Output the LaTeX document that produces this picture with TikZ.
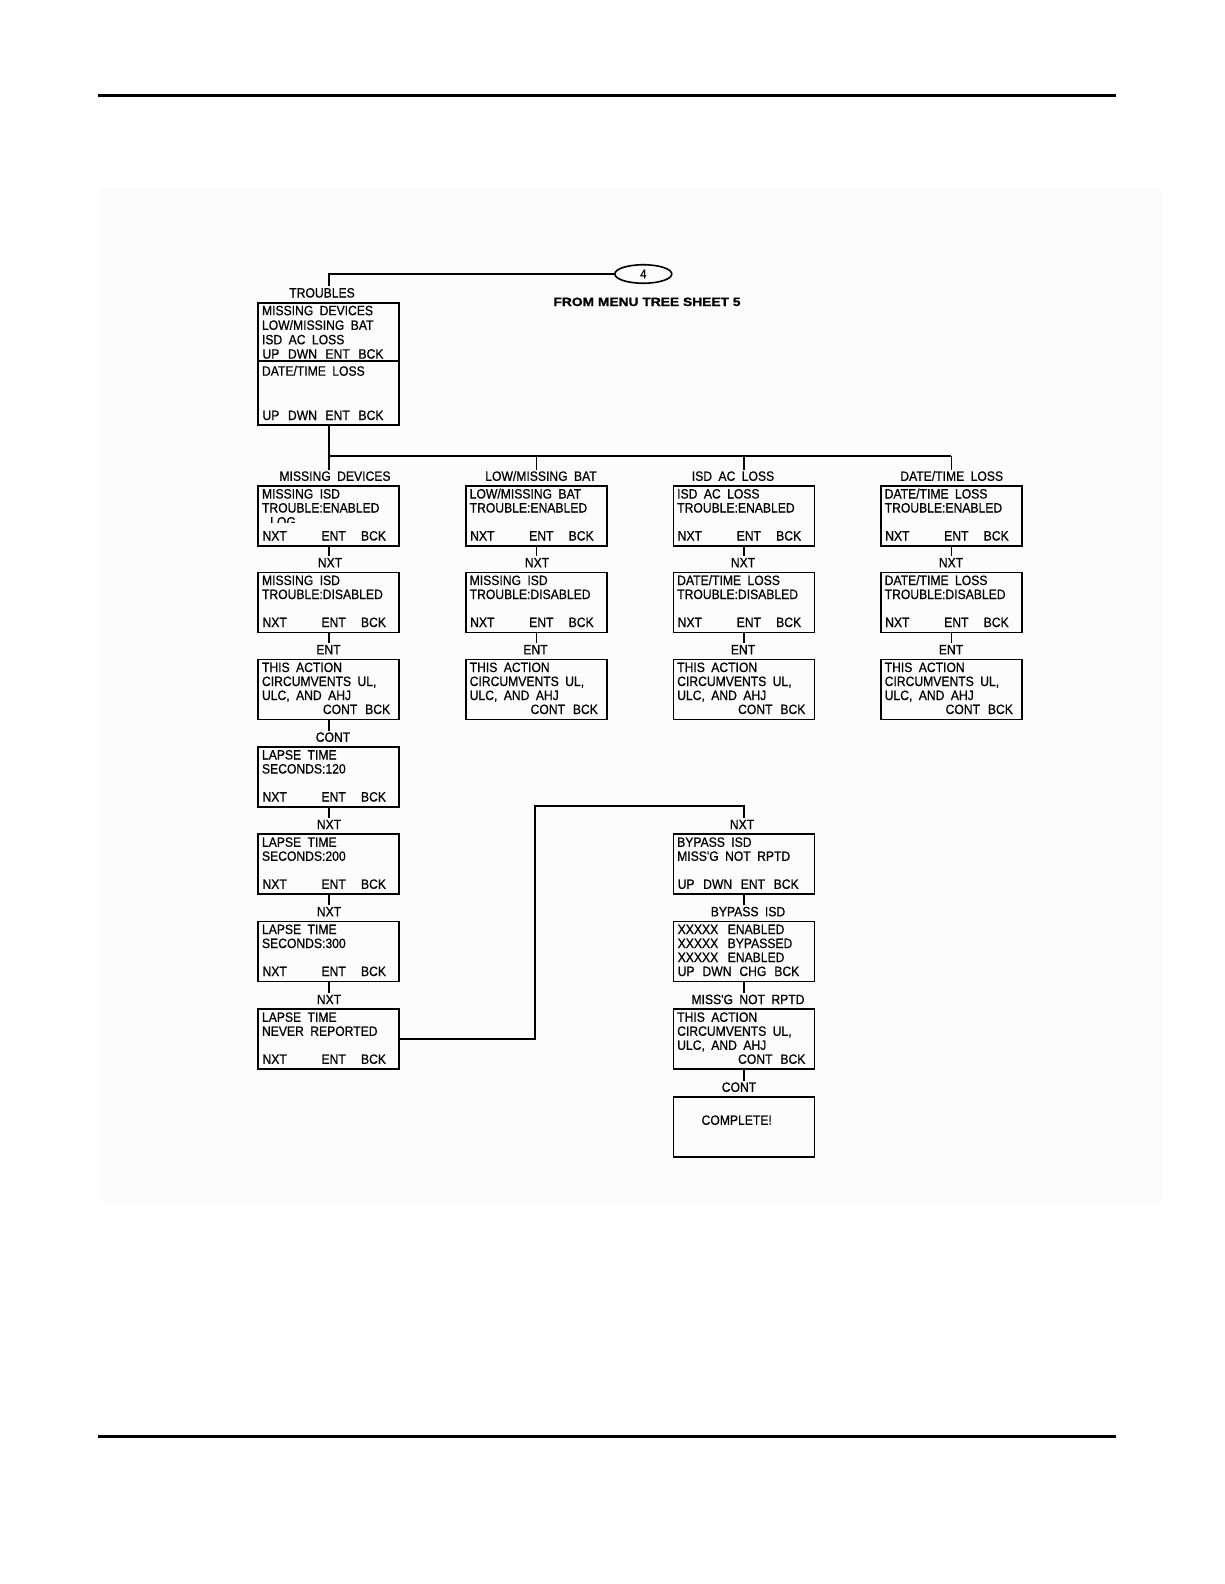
\documentclass[tikz,border=0pt]{standalone}
\usepackage{fontspec}
\usetikzlibrary{shapes.geometric}
\newfontfamily\scrfont{Liberation Sans}[FakeStretch=0.9,WordSpace=1.9,FakeBold=0.6]
\newfontfamily\hdfont{Liberation Sans}[UprightFont={* Bold},FakeStretch=1.15,FakeBold=1.2]
\newcommand\sz{\scrfont\fontsize{13.5}{15}\selectfont}
\newcommand\wpos[2]{\makebox[0pt][l]{\hspace*{#1pt}#2}}
\newcommand\rowNEB{\wpos{0}{NXT}\wpos{59}{ENT}\wpos{98.5}{BCK}}
\newcommand\rowCB{\wpos{60.4}{CONT}\wpos{102.7}{BCK}}
\newcommand\rowUDEB{\wpos{0}{UP}\wpos{25.5}{DWN}\wpos{63}{ENT}\wpos{96}{BCK}}
\newcommand\rowUDCB{\wpos{0}{UP}\wpos{24.8}{DWN}\wpos{61.7}{CHG}\wpos{96.6}{BCK}}
% two text lines + bottom row
\newcommand\scrn[6]{%
  \node[scr] (#1) at (#2,#3) {};
  \node[ln] (#1a) at ({#2+4.5},{#3+13.5}) {#4};
  \node[ln] (#1b) at ({#2+4.5},{#3+27.5}) {#5};
  \node[ln] (#1d) at ({#2+4.5},{#3+55.5}) {#6};}
% three text lines + bottom row
\newcommand\scrnf[7]{%
  \node[scr] (#1) at (#2,#3) {};
  \node[ln] (#1a) at ({#2+4.5},{#3+13.5}) {#4};
  \node[ln] (#1b) at ({#2+4.5},{#3+27.5}) {#5};
  \node[ln] (#1c) at ({#2+4.5},{#3+41.5}) {#6};
  \node[ln] (#1d) at ({#2+4.5},{#3+55.5}) {#7};}
\begin{document}
\begin{tikzpicture}[x=1pt,y=-1pt,
  scr/.style={draw, line width=1.8pt, anchor=north west, minimum width=141pt, minimum height=60pt, inner sep=0pt},
  ln/.style={anchor=base west, inner sep=0pt, font=\sz},
  lbl/.style={anchor=base, inner sep=1.2pt, text height=9.7pt, text depth=0pt, font=\sz},
  wire/.style={line width=1.8pt}]
\useasboundingbox (0,0) rectangle (1224,1584);
\fill[black!1.2] (100,188) rectangle (1163,1203);
\draw[line width=3pt] (98,96) -- (1116,96);
\draw[line width=3pt] (98,1436) -- (1116,1436);

% TROUBLES
\node[scr, minimum height=122pt] (tr) at (257.3,301.7) {};
\node[ln] (tra) at (261.8,315.2) {MISSING DEVICES};
\node[ln] (trb) at (261.8,329.8) {LOW/MISSING BAT};
\node[ln] (trc) at (261.8,344.3) {ISD AC LOSS};
\node[ln] (trd) at (261.8,358.6) {\rowUDEB};
\coordinate (trdiv) at (0,361.3);
\draw[wire] (tr.west |- trdiv) -- (tr.east |- trdiv);
\node[ln] (tre) at (261.8,375.7) {DATE/TIME LOSS};
\node[ln] (trf) at (261.8,420) {\rowUDEB};
\node[lbl] (tl) at (322,297.5) {TROUBLES};
\node[draw, ellipse, line width=1.6pt, minimum width=57pt, minimum height=18.5pt, inner sep=0pt,
      font=\scrfont\fontsize{12.5}{13}\selectfont] (four) at (643.3,274) {4};
\node[font=\hdfont\fontsize{12}{14}\selectfont, inner sep=0pt, anchor=base] (fm) at (647,306) {FROM MENU TREE SHEET 5};
\draw[wire] (tr.north |- tl.north) |- (four.west);

% column 1
\scrn{m1}{257.3}{485}{MISSING ISD}{TROUBLE:ENABLED}{\rowNEB}
\begin{scope}
\clip (257.3,514) rectangle (398,522);
\node[ln] (m1c) at (270,526.5) {LOG};
\end{scope}
\scrn{m2}{257.3}{571.5}{MISSING ISD}{TROUBLE:DISABLED}{\rowNEB}
\scrnf{m3}{257.3}{658.5}{THIS ACTION}{CIRCUMVENTS UL,}{ULC, AND AHJ}{\rowCB}
\scrn{m4}{257.3}{746}{LAPSE TIME}{SECONDS:120}{\rowNEB}
\scrn{m5}{257.3}{833.3}{LAPSE TIME}{SECONDS:200}{\rowNEB}
\scrn{m6}{257.3}{920.5}{LAPSE TIME}{SECONDS:300}{\rowNEB}
\scrn{m7}{257.3}{1008.3}{LAPSE TIME}{NEVER REPORTED}{\rowNEB}

% column 2
\scrn{b1}{465}{485}{LOW/MISSING BAT}{TROUBLE:ENABLED}{\rowNEB}
\scrn{b2}{465}{571.5}{MISSING ISD}{TROUBLE:DISABLED}{\rowNEB}
\scrnf{b3}{465}{658.5}{THIS ACTION}{CIRCUMVENTS UL,}{ULC, AND AHJ}{\rowCB}

% column 3
\scrn{a1}{672.5}{485}{ISD AC LOSS}{TROUBLE:ENABLED}{\rowNEB}
\scrn{a2}{672.5}{571.5}{DATE/TIME LOSS}{TROUBLE:DISABLED}{\rowNEB}
\scrnf{a3}{672.5}{658.5}{THIS ACTION}{CIRCUMVENTS UL,}{ULC, AND AHJ}{\rowCB}

% column 4
\scrn{d1}{880}{485}{DATE/TIME LOSS}{TROUBLE:ENABLED}{\rowNEB}
\scrn{d2}{880}{571.5}{DATE/TIME LOSS}{TROUBLE:DISABLED}{\rowNEB}
\scrnf{d3}{880}{658.5}{THIS ACTION}{CIRCUMVENTS UL,}{ULC, AND AHJ}{\rowCB}

% bypass column
\scrn{p5}{672.5}{833.3}{BYPASS ISD}{MISS'G NOT RPTD}{\rowUDEB}
\scrnf{p6}{672.5}{920.5}{\wpos{0}{XXXXX}\wpos{50}{ENABLED}}{\wpos{0}{XXXXX}\wpos{50}{BYPASSED}}{\wpos{0}{XXXXX}\wpos{50}{ENABLED}}{\rowUDCB}
\scrnf{p7}{672.5}{1008.3}{THIS ACTION}{CIRCUMVENTS UL,}{ULC, AND AHJ}{\rowCB}
\node[scr] (p8) at (672.5,1096) {};
\node[ln, anchor=base] (p8a) at (736.7,1124.8) {COMPLETE!};

% labels
\node[lbl] (h1) at (335,480.8) {MISSING DEVICES};
\node[lbl] (h2) at (541,480.8) {LOW/MISSING BAT};
\node[lbl] (h3) at (733,480.8) {ISD AC LOSS};
\node[lbl] (h4) at (951.7,480.8) {DATE/TIME LOSS};
\node[lbl] (n12) at (330,567.3) {NXT};
\node[lbl] (e13) at (328.5,654.3) {ENT};
\node[lbl] (c14) at (333,741.8) {CONT};
\node[lbl] (n15) at (329,829.1) {NXT};
\node[lbl] (n16) at (329,916.3) {NXT};
\node[lbl] (n17) at (329,1004.1) {NXT};
\node[lbl] (n22) at (537,567.3) {NXT};
\node[lbl] (e23) at (535.5,654.3) {ENT};
\node[lbl] (n32) at (743,567.3) {NXT};
\node[lbl] (e33) at (743,654.3) {ENT};
\node[lbl] (n42) at (951,567.3) {NXT};
\node[lbl] (e43) at (951,654.3) {ENT};
\node[lbl] (np5) at (742,829.1) {NXT};
\node[lbl] (bp6) at (748,916.3) {BYPASS ISD};
\node[lbl] (mp7) at (748,1004.1) {MISS'G NOT RPTD};
\node[lbl] (cp8) at (739,1091.8) {CONT};

% connectors
\coordinate (bus) at (0,456);
\draw[wire] (tr.south) -- (tr.south |- h1.north);
\draw[wire] (m1.north |- bus) -- (d1.north |- bus);
\draw[wire] (b1.north |- bus) -- (b1.north |- h2.north);
\draw[wire] (a1.north |- bus) -- (a1.north |- h3.north);
\draw[wire] (d1.north |- bus) -- (d1.north |- h4.north);
\draw[wire] (m1.south) -- (m1.south |- n12.north);
\draw[wire] (m2.south) -- (m2.south |- e13.north);
\draw[wire] (m3.south) -- (m3.south |- c14.north);
\draw[wire] (m4.south) -- (m4.south |- n15.north);
\draw[wire] (m5.south) -- (m5.south |- n16.north);
\draw[wire] (m6.south) -- (m6.south |- n17.north);
\draw[wire] (b1.south) -- (b1.south |- n22.north);
\draw[wire] (b2.south) -- (b2.south |- e23.north);
\draw[wire] (a1.south) -- (a1.south |- n32.north);
\draw[wire] (a2.south) -- (a2.south |- e33.north);
\draw[wire] (d1.south) -- (d1.south |- n42.north);
\draw[wire] (d2.south) -- (d2.south |- e43.north);
\coordinate (jx) at (535,806);
\draw[wire] (m7.east) -| (jx) -| (p5.north |- np5.north);
\draw[wire] (p5.south) -- (p5.south |- bp6.north);
\draw[wire] (p6.south) -- (p6.south |- mp7.north);
\draw[wire] (p7.south) -- (p7.south |- cp8.north);
\end{tikzpicture}
\end{document}
